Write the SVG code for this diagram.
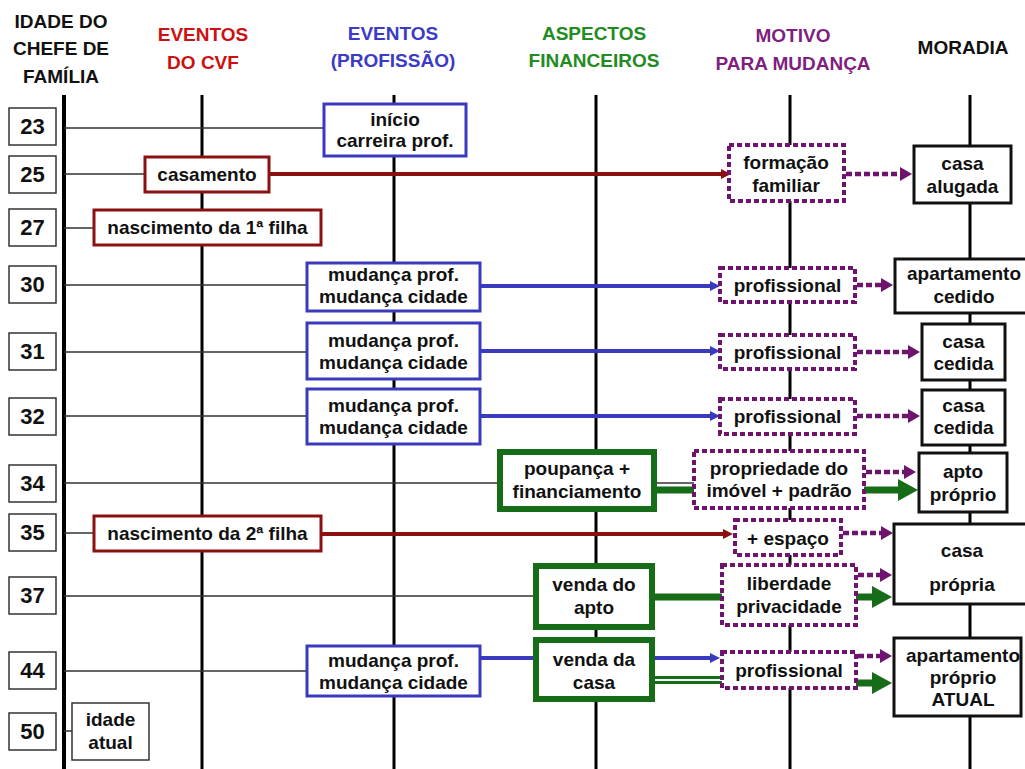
<svg xmlns="http://www.w3.org/2000/svg" width="1025" height="769" viewBox="0 0 1025 769">
<defs>
<style>
text{font-family:"Liberation Sans",Arial,sans-serif;font-weight:bold;font-size:19px;text-anchor:middle;fill:#111}
.h{font-size:19px}
.age{font-size:22px}
.vl{stroke:#000;stroke-width:3}
.thin{stroke:#333;stroke-width:1.3;fill:none}
.agebox{fill:#fff;stroke:#333;stroke-width:1.5}
.red{fill:#fff;stroke:#8b1010;stroke-width:3}
.blue{fill:#fff;stroke:#3a3abf;stroke-width:3}
.green{fill:#fff;stroke:#176d17;stroke-width:6}
.purp{fill:#fff;stroke:#6e146e;stroke-width:4;stroke-dasharray:5 3}
.blk{fill:#fff;stroke:#111;stroke-width:3}
.cr{stroke:#8b1010;stroke-width:4;fill:none}
.cb{stroke:#3a3abf;stroke-width:4;fill:none}
.cg{stroke:#176d17;stroke-width:7;fill:none}
.cp{stroke:#6e146e;stroke-width:4.5;stroke-dasharray:6 3;fill:none}
</style>
<marker id="mr" markerUnits="userSpaceOnUse" markerWidth="10" markerHeight="10" refX="2" refY="5" orient="auto"><path d="M0,0 L10,5 L0,10 z" fill="#8b1010"/></marker>
<marker id="mb" markerUnits="userSpaceOnUse" markerWidth="10" markerHeight="10" refX="2" refY="5" orient="auto"><path d="M0,0 L10,5 L0,10 z" fill="#3a3abf"/></marker>
<marker id="mp" markerUnits="userSpaceOnUse" markerWidth="12" markerHeight="14" refX="0" refY="7" orient="auto"><path d="M0,0 L12,7 L0,14 z" fill="#6e146e"/></marker>
<marker id="mg" markerUnits="userSpaceOnUse" markerWidth="20" markerHeight="22" refX="2" refY="11" orient="auto"><path d="M0,0 L20,11 L0,22 z" fill="#176d17"/></marker>
</defs>
<rect width="1025" height="769" fill="#fff"/>

<g id="headers">
<text x="61" y="28">IDADE DO</text>
<text x="61" y="55">CHEFE DE</text>
<text x="61" y="83">FAMÍLIA</text>
<text x="203" y="41" style="fill:#cc1111">EVENTOS</text>
<text x="203" y="69" style="fill:#cc1111">DO CVF</text>
<text x="393" y="40" style="fill:#3b3bc8">EVENTOS</text>
<text x="393" y="67" style="fill:#3b3bc8">(PROFISSÃO)</text>
<text x="594" y="40" style="fill:#228b22">ASPECTOS</text>
<text x="594" y="67" style="fill:#228b22">FINANCEIROS</text>
<text x="793" y="42" style="fill:#7f1f7f">MOTIVO</text>
<text x="793" y="70" style="fill:#7f1f7f">PARA MUDANÇA</text>
<text x="963" y="54">MORADIA</text>
</g>

<g id="timeline">
<line class="vl" x1="64" y1="95" x2="64" y2="769" style="stroke-width:4"/>
<line class="vl" x1="202" y1="95" x2="202" y2="769"/>
<line class="vl" x1="394" y1="95" x2="394" y2="769"/>
<line class="vl" x1="596" y1="95" x2="596" y2="769"/>
<line class="vl" x1="790" y1="95" x2="790" y2="769"/>
<line class="vl" x1="970" y1="95" x2="970" y2="769"/>
</g>

<g id="connectors">
<path class="thin" d="M64,128H324M64,174H145M64,228H94M64,285H307M64,352H307M64,416H307M64,483H694M64,533H94M64,596H536M64,671H307M64,731H72"/>
<path class="cr" d="M269,174H723" marker-end="url(#mr)"/>
<path class="cr" d="M321,534H725" marker-end="url(#mr)"/>
<path class="cb" d="M480,286H712" marker-end="url(#mb)"/>
<path class="cb" d="M480,351H712" marker-end="url(#mb)"/>
<path class="cb" d="M480,416H712" marker-end="url(#mb)"/>
<path class="cb" d="M480,658H536"/>
<path class="cb" d="M655,658H712" marker-end="url(#mb)"/>
<path class="cg" d="M657,490H694"/>
<path class="cg" d="M864,490H900" marker-end="url(#mg)"/>
<path class="cg" d="M655,597H722"/>
<path class="cg" d="M856,597H874" marker-end="url(#mg)"/>
<path class="cg" d="M655,680H722" style="stroke-width:8"/>
<path d="M655,680H722" style="stroke:#fff;stroke-width:2"/>
<path class="cg" d="M856,683H874" marker-end="url(#mg)"/>
<path class="cp" d="M846,174H900" marker-end="url(#mp)"/>
<path class="cp" d="M857,285H881" marker-end="url(#mp)"/>
<path class="cp" d="M857,352H908" marker-end="url(#mp)"/>
<path class="cp" d="M857,416H908" marker-end="url(#mp)"/>
<path class="cp" d="M866,472H904" marker-end="url(#mp)"/>
<path class="cp" d="M843,533H881" marker-end="url(#mp)"/>
<path class="cp" d="M858,575H880" marker-end="url(#mp)"/>
<path class="cp" d="M858,656H880" marker-end="url(#mp)"/>
</g>

<g id="age23"><rect class="agebox" x="9" y="108" width="47" height="37"/><text class="age" x="32.5" y="134">23</text></g>
<g id="age25"><rect class="agebox" x="9" y="156" width="47" height="37"/><text class="age" x="32.5" y="182">25</text></g>
<g id="age27"><rect class="agebox" x="9" y="209" width="47" height="37"/><text class="age" x="32.5" y="235">27</text></g>
<g id="age30"><rect class="agebox" x="9" y="266" width="47" height="37"/><text class="age" x="32.5" y="292">30</text></g>
<g id="age31"><rect class="agebox" x="9" y="333" width="47" height="37"/><text class="age" x="32.5" y="359">31</text></g>
<g id="age32"><rect class="agebox" x="9" y="398" width="47" height="37"/><text class="age" x="32.5" y="424">32</text></g>
<g id="age34"><rect class="agebox" x="9" y="465" width="47" height="37"/><text class="age" x="32.5" y="491">34</text></g>
<g id="age35"><rect class="agebox" x="9" y="514" width="47" height="37"/><text class="age" x="32.5" y="540">35</text></g>
<g id="age37"><rect class="agebox" x="9" y="577" width="47" height="37"/><text class="age" x="32.5" y="603">37</text></g>
<g id="age44"><rect class="agebox" x="9" y="652" width="47" height="37"/><text class="age" x="32.5" y="678">44</text></g>
<g id="age50"><rect class="agebox" x="9" y="713" width="47" height="37"/><text class="age" x="32.5" y="739">50</text></g>
<g id="idade-atual"><rect class="agebox" x="72" y="703" width="77" height="57"/><text x="110.5" y="726">idade</text><text x="110.5" y="749">atual</text></g>

<g id="casamento"><rect class="red" x="145" y="157" width="124" height="35"/><text x="207" y="181">casamento</text></g>
<g id="filha1"><rect class="red" x="94" y="210" width="227" height="35"/><text x="207.5" y="234">nascimento da 1ª filha</text></g>
<g id="filha2"><rect class="red" x="94" y="516" width="227" height="35"/><text x="207.5" y="540">nascimento da 2ª filha</text></g>

<g id="inicio"><rect class="blue" x="324" y="104" width="142" height="52"/><text x="395" y="126">início</text><text x="395" y="147">carreira prof.</text></g>
<g id="prof30"><rect class="blue" x="307" y="263" width="173" height="48"/><text x="393.5" y="281">mudança prof.</text><text x="393.5" y="303">mudança cidade</text></g>
<g id="prof31"><rect class="blue" x="307" y="323" width="173" height="56"/><text x="393.5" y="347">mudança prof.</text><text x="393.5" y="369">mudança cidade</text></g>
<g id="prof32"><rect class="blue" x="307" y="389" width="173" height="55"/><text x="393.5" y="412">mudança prof.</text><text x="393.5" y="434">mudança cidade</text></g>
<g id="prof44"><rect class="blue" x="307" y="646" width="173" height="50"/><text x="393.5" y="667">mudança prof.</text><text x="393.5" y="689">mudança cidade</text></g>

<g id="poupanca"><rect class="green" x="500" y="452" width="154" height="57"/><text x="577" y="475">poupança +</text><text x="577" y="498">financiamento</text></g>
<g id="venda-apto"><rect class="green" x="536" y="566" width="116" height="61"/><text x="594" y="591">venda do</text><text x="594" y="614">apto</text></g>
<g id="venda-casa"><rect class="green" x="536" y="640" width="116" height="59"/><text x="594" y="666">venda da</text><text x="594" y="689">casa</text></g>

<g id="formacao"><rect class="purp" x="729" y="145" width="115" height="56"/><text x="786" y="169">formação</text><text x="786" y="192">familiar</text></g>
<g id="motivo30"><rect class="purp" x="720" y="268" width="135" height="34"/><text x="787.5" y="292">profissional</text></g>
<g id="motivo31"><rect class="purp" x="720" y="335" width="135" height="34"/><text x="787.5" y="359">profissional</text></g>
<g id="motivo32"><rect class="purp" x="720" y="399" width="135" height="35"/><text x="787.5" y="423">profissional</text></g>
<g id="propriedade"><rect class="purp" x="694" y="451" width="170" height="57"/><text x="779" y="475">propriedade do</text><text x="779" y="497">imóvel + padrão</text></g>
<g id="espaco"><rect class="purp" x="735" y="520" width="106" height="35"/><text x="788" y="545">+ espaço</text></g>
<g id="liberdade"><rect class="purp" x="722" y="565" width="134" height="60"/><text x="789" y="590">liberdade</text><text x="789" y="613">privacidade</text></g>
<g id="motivo44"><rect class="purp" x="722" y="652" width="134" height="36"/><text x="789" y="677">profissional</text></g>

<g id="casa-alugada"><rect class="blk" x="914" y="146" width="97" height="57"/><text x="962.5" y="170">casa</text><text x="962.5" y="193">alugada</text></g>
<g id="apto-cedido"><rect class="blk" x="895" y="259" width="135" height="54"/><text x="964" y="280">apartamento</text><text x="964" y="303">cedido</text></g>
<g id="casa-cedida31"><rect class="blk" x="922" y="324" width="83" height="56"/><text x="963.5" y="348">casa</text><text x="963.5" y="370">cedida</text></g>
<g id="casa-cedida32"><rect class="blk" x="922" y="390" width="83" height="55"/><text x="963.5" y="412">casa</text><text x="963.5" y="434">cedida</text></g>
<g id="apto-proprio"><rect class="blk" x="919" y="453" width="88" height="59"/><text x="963" y="478">apto</text><text x="963" y="501">próprio</text></g>
<g id="casa-propria"><rect class="blk" x="894" y="524" width="135" height="80"/><text x="962" y="557">casa</text><text x="962" y="591">própria</text></g>
<g id="apto-atual"><rect class="blk" x="894" y="638" width="127" height="78"/><text x="963" y="662">apartamento</text><text x="963" y="684">próprio</text><text x="963" y="706">ATUAL</text></g>
</svg>
